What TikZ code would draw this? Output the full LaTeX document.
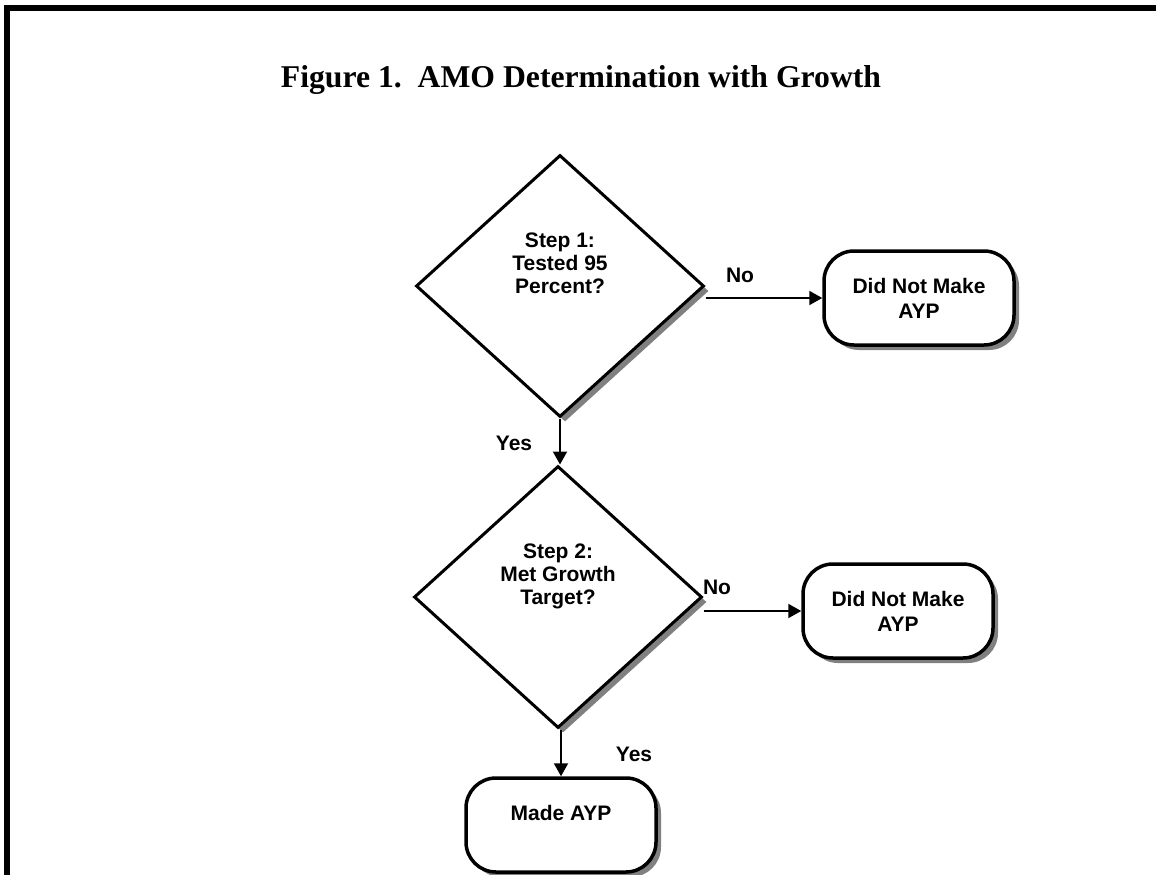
\documentclass[tikz,border=0pt]{standalone}
\usepackage{fontspec}
\setmainfont{Liberation Serif}
\setsansfont{Liberation Sans}
\usetikzlibrary{shapes.geometric,shadows,arrows.meta}

\tikzset{
	boxshadow/.style={drop shadow={shadow xshift=5pt, shadow yshift=-5pt, fill=black!50, opacity=1}},
	decision/.style={diamond, draw, line width=3pt, fill=white, inner sep=0pt,
		minimum width=288pt, minimum height=262pt, boxshadow},
	terminal/.style={rectangle, rounded corners=30pt, draw, line width=3.5pt, fill=white,
		minimum width=190pt, minimum height=94pt, align=center,
		font=\sffamily\bfseries\fontsize{21}{25}\selectfont, boxshadow},
	steptext/.style={align=center, font=\sffamily\bfseries\fontsize{21}{23}\selectfont},
	flow/.style={line width=2pt, -{Triangle[length=13pt,width=14pt]}},
	flowlabel/.style={font=\sffamily\bfseries\fontsize{21}{23}\selectfont, inner sep=0pt}
}

\begin{document}
\begin{tikzpicture}[x=1pt,y=-1pt]
		\useasboundingbox (0,0) rectangle (1156,875);
		% frame
		\draw[line width=6pt] (7,875) -- (7,8) -- (1156,8);
		\node[anchor=base, font=\rmfamily\bfseries\fontsize{31.7}{38}\selectfont] (title) at (581,88) {Figure 1.\ \ AMO Determination with Growth};
		% decisions
		\node[decision, label={[steptext,yshift=23pt]center:{Step 1:\\Tested 95\\Percent?}}] (step1) at (560,286) {};
		\node[decision, label={[steptext,yshift=21pt]center:{Step 2:\\Met Growth\\Target?}}] (step2) at (558,597) {};
		% outcomes
		\node[terminal] (fail1) at (919,298) {Did Not Make\\AYP};
		\node[terminal] (fail2) at (898,611) {Did Not Make\\AYP};
		\node[terminal, text depth=24pt] (made) at (561,825) {Made AYP};
		% arrows
		\draw[flow] (step1.east |- fail1.west) -- (fail1.west);
		\draw[flow] (step2.east |- fail2.west) -- (fail2.west);
		\draw[flow] (step1.south) -- (step1.south |- step2.north);
		\draw[flow] (step2.south -| made.north) -- (made.north);
		\node[flowlabel] (no1) at (740,275) {No};
		\node[flowlabel] (no2) at (717,587) {No};
		\node[flowlabel] (yes1) at (514,443) {Yes};
		\node[flowlabel] (yes2) at (634,754) {Yes};
	\end{tikzpicture}
\end{document}
